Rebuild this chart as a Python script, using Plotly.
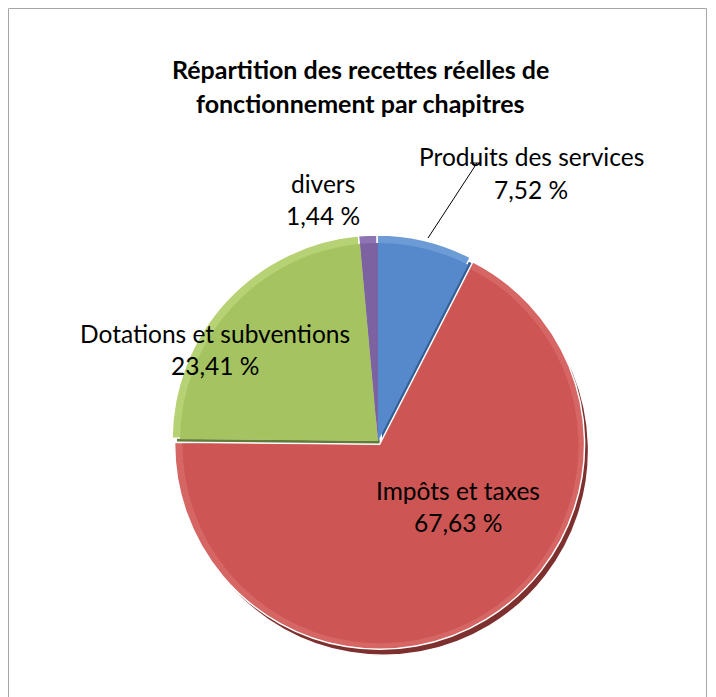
import plotly.graph_objects as go

# Recettes réelles de fonctionnement, par chapitre (en %)
categories = ["Produits des services", "Impôts et taxes", "Dotations et subventions", "divers"]
values = [7.52, 67.63, 23.41, 1.44]
explode_px = [0, 5, 0, 0]          # how far each slice is pulled out, in pixels

shade_colors = ["#345F94", "#7E302E", "#61793A", "#4E3C6A"]   # lower-right bevel
light_colors = ["#6C9BD6", "#D66664", "#B7D274", "#8E74B2"]   # upper-left bevel
fill_colors = ["#5689CB", "#CD5654", "#A5C360", "#7D62A2"]    # slice face

W, H = 716, 697
CX, CY = 378, 441          # pie centre in pixels


def px(x):
    return x / W


def py(y):
    return 1 - y / H


def add_layer(fig, r, dx, dy, colors, line_w):
    """One full pie of radius r (pixels), centre shifted by (dx, dy)."""
    pulls = [e / r for e in explode_px]
    half = r * (1 + max(pulls))
    cx, cy = CX + dx, CY + dy
    fig.add_trace(go.Pie(
        labels=categories, values=values, sort=False, direction="clockwise", rotation=0,
        pull=pulls,
        marker=dict(colors=colors, line=dict(color="white", width=line_w)),
        textinfo="none", hoverinfo="label+percent", showlegend=False,
        domain=dict(x=[px(cx - half), px(cx + half)], y=[py(cy + half), py(cy - half)]),
    ))


fig = go.Figure()
add_layer(fig, 205, 3, 5, shade_colors, 1.5)
add_layer(fig, 205, -1, -1, light_colors, 1.5)
add_layer(fig, 198, 0, 0, fill_colors, 0)

FONT = "Lato, 'Open Sans', sans-serif"


def pct(v):
    return f"{v:.2f}".replace(".", ",") + " %"


annotations = []

# title, two lines
for txt, y in [("Répartition des recettes réelles de", 69), ("fonctionnement par chapitres", 103)]:
    annotations.append(dict(text=f"<b>{txt}</b>", x=px(360), y=py(y), xref="paper", yref="paper",
                            showarrow=False, xanchor="center", yanchor="middle",
                            font=dict(family=FONT, size=25, color="black")))

# data labels: name on the first line, share on the second
label_pos = {
    "Produits des services": (531, 157),
    "Impôts et taxes": (458, 490),
    "Dotations et subventions": (215, 333),
    "divers": (323, 183),
}
for name, v in zip(categories, values):
    lx, ly = label_pos[name]
    for txt, yy in [(name, ly), (pct(v), ly + 32)]:
        annotations.append(dict(text=txt, x=px(lx), y=py(yy), xref="paper", yref="paper",
                                showarrow=False, xanchor="center", yanchor="middle",
                                font=dict(family=FONT, size=24.5, color="black")))

shapes = [
    # chart frame
    dict(type="rect", xref="paper", yref="paper", x0=px(8.5), x1=px(706.5), y0=-0.05, y1=py(8.5),
         line=dict(color="#A6A6A6", width=1), fillcolor="rgba(0,0,0,0)"),
    # leader line for "Produits des services"
    dict(type="line", xref="paper", yref="paper", x0=px(477), y0=py(163), x1=px(428), y1=py(238),
         line=dict(color="black", width=1)),
    dict(type="line", xref="paper", yref="paper", x0=px(470), y0=py(163), x1=px(480), y1=py(163),
         line=dict(color="black", width=1)),
]

fig.update_layout(
    width=W, height=H, autosize=False,
    margin=dict(l=0, r=0, t=0, b=0),
    paper_bgcolor="white", plot_bgcolor="white",
    annotations=annotations, shapes=shapes, showlegend=False,
)

fig.write_html("out.html")
